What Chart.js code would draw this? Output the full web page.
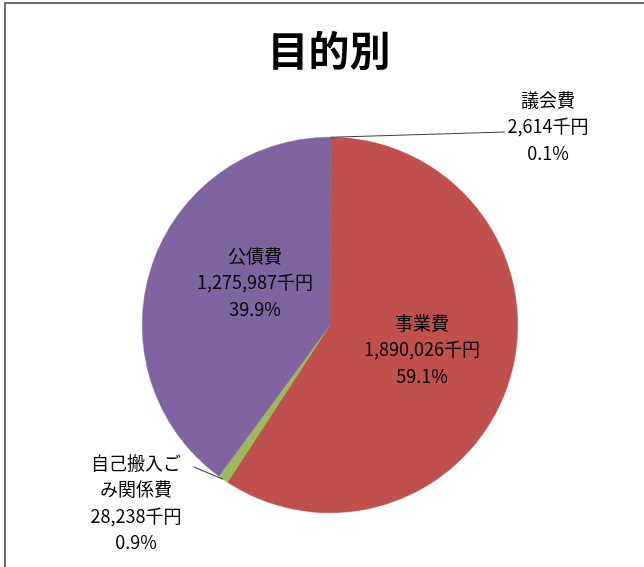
<!DOCTYPE html>
<html lang="ja">
<head>
  <meta charset="UTF-8">
  <title>目的別</title>
  <script src="https://cdn.jsdelivr.net/npm/chart.js@4.4.0/dist/chart.umd.min.js"></script>
  <style>
    html, body { margin: 0; padding: 0; background: #fff; }
    #wrap { position: relative; width: 644px; height: 567px; }
    #frame {
      position: absolute; left: 4px; top: 2px; right: -10px; bottom: -10px;
      border-left: 2px solid #6e6e6e; border-top: 2px solid #6e6e6e;
      pointer-events: none;
    }
  </style>
</head>
<body>
  <div id="wrap">
    <canvas id="myChart" width="644" height="567"></canvas>
    <div id="frame"></div>
  </div>
  <script>
    // データ（千円）
    const categories = ['議会費', '事業費', '自己搬入ごみ関係費', '公債費'];
    const amounts = [2614, 1890026, 28238, 1275987];
    const percents = ['0.1%', '59.1%', '0.9%', '39.9%'];
    // ラベルの行（改行位置は元の図に合わせる）
    const labelLines = [
      ['議会費'],
      ['事業費'],
      ['自己搬入ご', 'み関係費'],
      ['公債費']
    ];
    const colors = ['#4F81BD', '#C0504D', '#9BBB59', '#8064A2'];

    // ラベルの配置（中心x, 1行目のy, 引出線の終点）
    const labelLayout = [
      { x: 548, y: 100, leader: { x: 505, y: 132 } },
      { x: 422, y: 323 },
      { x: 136, y: 463, leader: { x: 194, y: 467 } },
      { x: 255, y: 256 }
    ];

    const fmt = n => n.toLocaleString('en-US');

    const labelPlugin = {
      id: 'sliceLabels',
      afterDraw(chart) {
        const c = chart.ctx;
        const meta = chart.getDatasetMeta(0);
        c.save();
        // 引出線
        meta.data.forEach((arc, i) => {
          const lay = labelLayout[i];
          if (!lay.leader) return;
          const mid = (arc.startAngle + arc.endAngle) / 2;
          const ex = arc.x + Math.cos(mid) * arc.outerRadius;
          const ey = arc.y + Math.sin(mid) * arc.outerRadius;
          c.strokeStyle = '#404040';
          c.lineWidth = 1.2;
          c.beginPath();
          c.moveTo(ex, ey);
          c.lineTo(lay.leader.x, lay.leader.y);
          c.stroke();
        });
        // 文字
        c.fillStyle = '#000';
        c.textAlign = 'center';
        c.textBaseline = 'middle';
        c.font = '18px "Noto Sans CJK JP", sans-serif';
        meta.data.forEach((arc, i) => {
          const lay = labelLayout[i];
          const lines = labelLines[i].concat([fmt(amounts[i]) + '千円', percents[i]]);
          lines.forEach((t, k) => {
            c.fillText(t, lay.x, lay.y + k * 26.5);
          });
        });
        // タイトル
        c.font = 'bold 41px "Noto Sans CJK JP", sans-serif';
        c.fillText('目的別', 329, 50);
        c.restore();
      }
    };

    const ctx = document.getElementById('myChart').getContext('2d');
    const myChart = new Chart(ctx, {
      type: 'pie',
      data: {
        labels: categories,
        datasets: [{
          data: amounts,
          backgroundColor: colors,
          borderColor: colors,
          borderWidth: 0.5
        }]
      },
      options: {
        responsive: false,
        animation: false,
        layout: { padding: { left: 142, right: 126, top: 137, bottom: 54 } },
        plugins: {
          legend: { display: false },
          tooltip: { enabled: false }
        }
      },
      plugins: [labelPlugin]
    });
  </script>
</body>
</html>
